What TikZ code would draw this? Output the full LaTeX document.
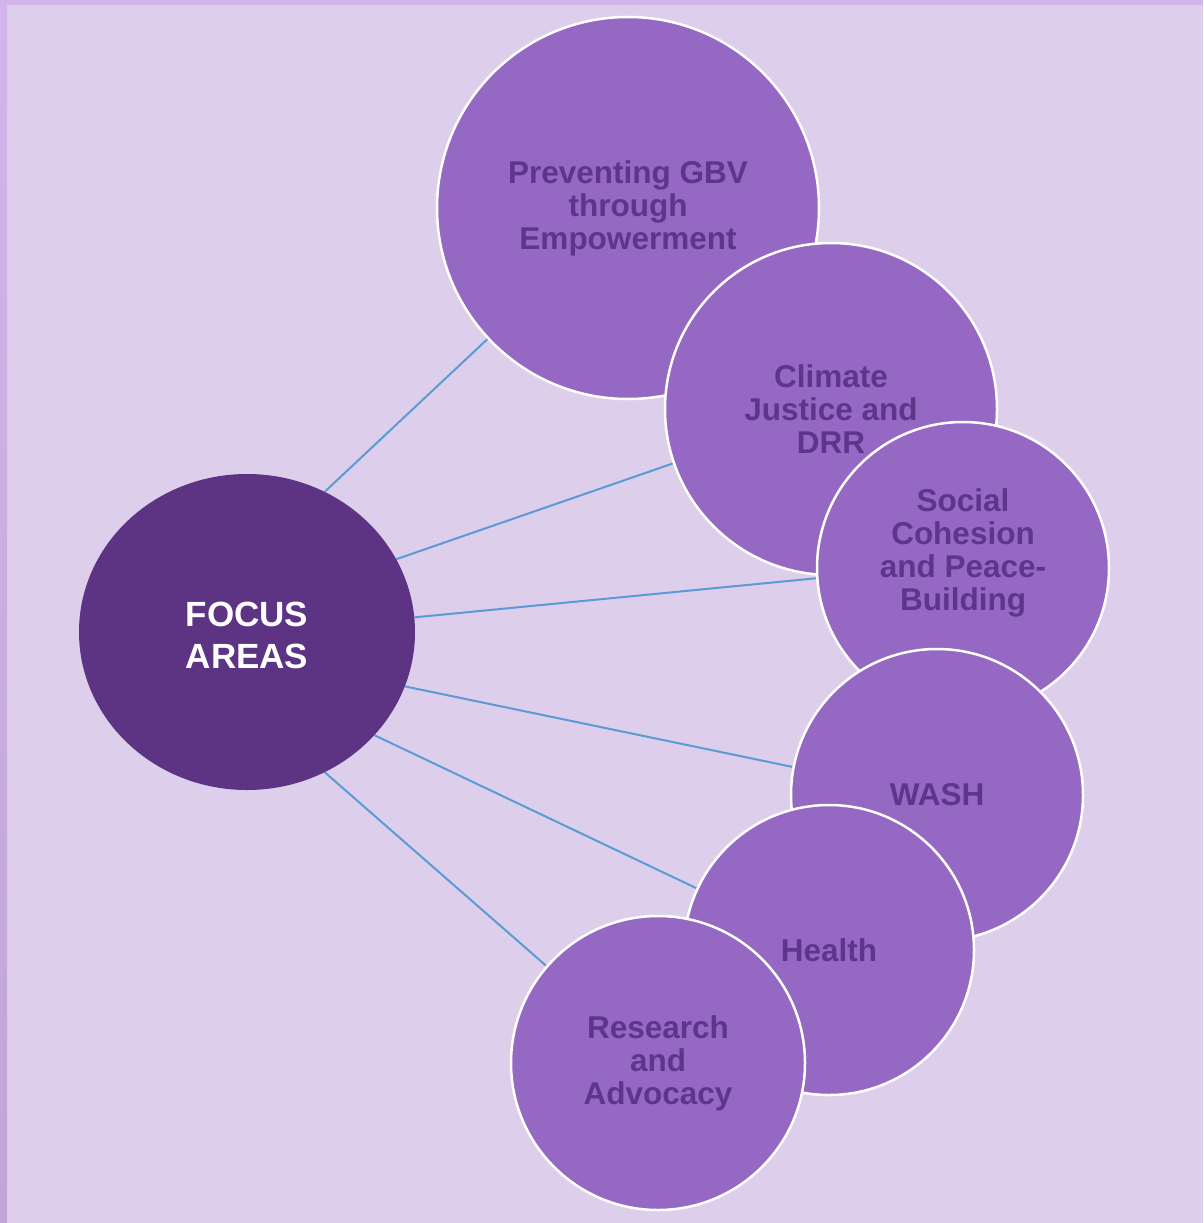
\documentclass[tikz,border=0pt]{standalone}
\usepackage{fontspec}
\setmainfont{Liberation Sans}
\usetikzlibrary{shapes.geometric}

\definecolor{bgLilac}{HTML}{DDCFEC}
\definecolor{frameTop}{HTML}{D3B4EC}
\definecolor{frameBot}{HTML}{C2A5D5}
\definecolor{areaFill}{HTML}{9568C3}
\definecolor{areaText}{HTML}{5E3589}
\definecolor{focusFill}{HTML}{5C3483}
\definecolor{linkBlue}{HTML}{5B9BD5}

\pgfdeclarelayer{back}
\pgfdeclarelayer{links}
\pgfsetlayers{back,links,main}

\tikzset{
  area/.style={circle, draw=white, line width=2.5pt, fill=areaFill, inner sep=0pt,
    text=areaText, align=center, font=\fontsize{31.5}{33}\selectfont\bfseries},
  focus/.style={ellipse, fill=focusFill, inner sep=0pt, minimum width=336pt,
    minimum height=316pt, text=white, align=center,
    font=\fontsize{35}{42}\selectfont\bfseries},
  link/.style={draw=linkBlue, line width=2pt}
}

\begin{document}
\begin{tikzpicture}[x=1pt,y=-1pt]
        % background and frame
        \begin{pgfonlayer}{back}
        \fill[bgLilac] (0,0) rectangle (1203,1223);
        \shade[top color=frameTop, bottom color=frameBot] (0,0) rectangle (7,1223);
        \fill[frameTop] (0,0) rectangle (1203,5);
        \end{pgfonlayer}

        \node[focus] (focus) at (247,632) {\\[-10pt]FOCUS\\AREAS};

        \node[area, minimum size=382pt] (gbv) at (628,208) {Preventing GBV\\through\\Empowerment};
        \node[area, minimum size=332pt] (cli) at (831,409) {Climate\\Justice and\\DRR};
        \node[area, minimum size=292pt] (soc) at (963,568) {Social\\Cohesion\\and Peace-\\Building\\[3pt]};
        \node[area, minimum size=292pt] (wash) at (937,795) {WASH};
        \node[area, minimum size=290pt] (hlth) at (829,950) {Health};
        \node[area, minimum size=294pt] (res) at (658,1063) {Research\\and\\Advocacy};

        % lines go under the circles
        \begin{pgfonlayer}{links}
        \draw[link] (focus.61.5) -- (gbv.223);
        \draw[link] (focus.26.3) -- (cli.199);
        \draw[link] (focus.5.5) -- (soc.184.7);
        \draw[link] (focus.-19.3) -- (wash.169);
        \draw[link] (focus.-39.3) -- (hlth.155);
        \draw[link] (focus.-61.5) -- (res.139);
        \end{pgfonlayer}
\end{tikzpicture}
\end{document}
